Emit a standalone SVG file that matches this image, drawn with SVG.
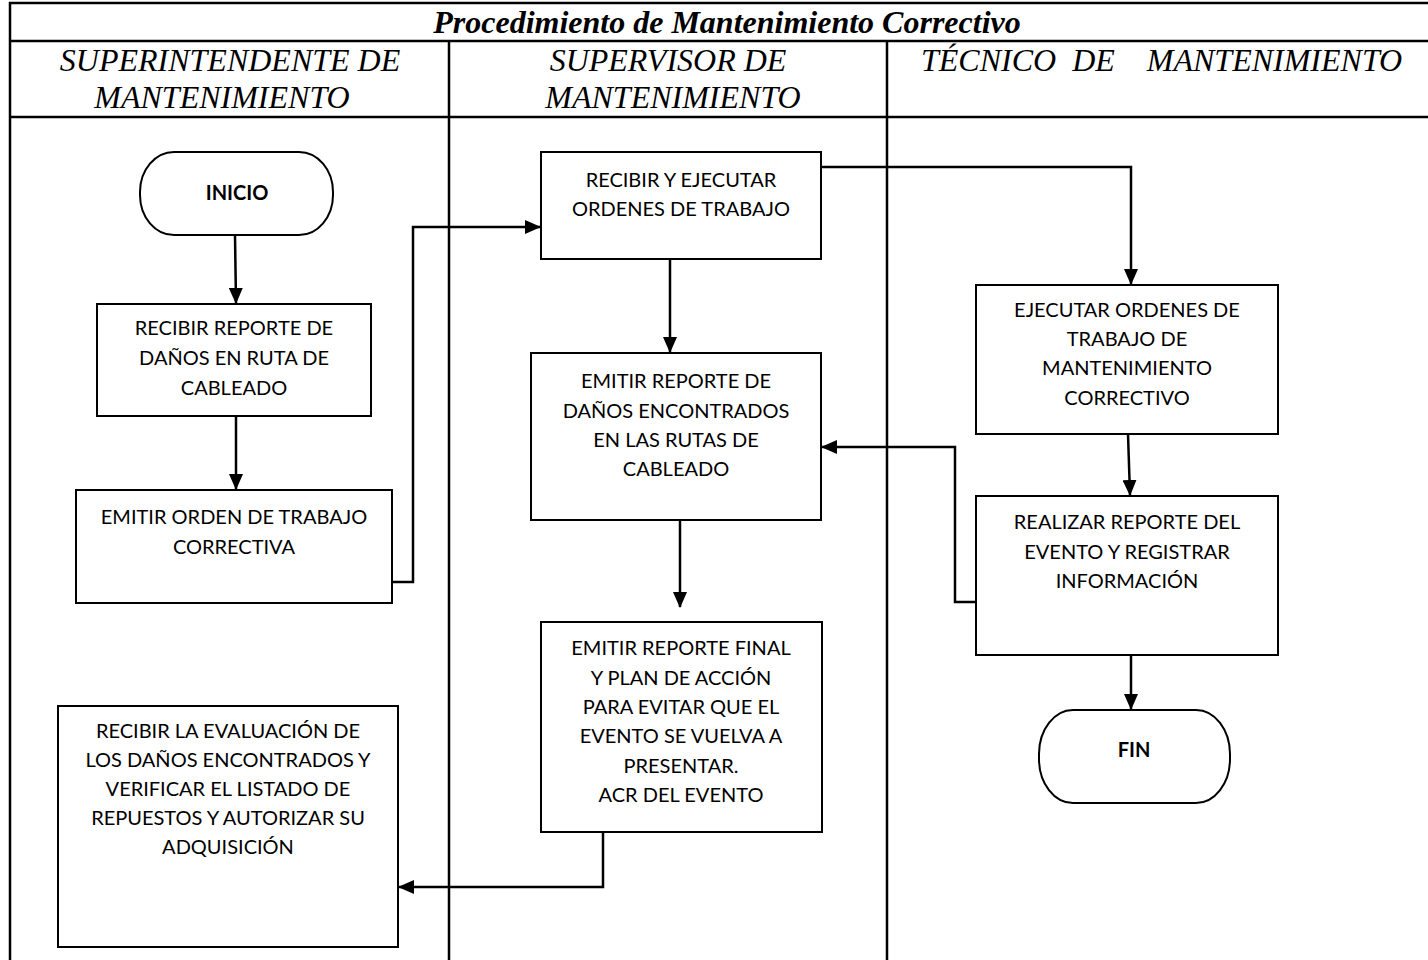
<svg xmlns="http://www.w3.org/2000/svg" width="1428" height="960" viewBox="0 0 1428 960">
<style>
.grid{stroke:#000;stroke-width:2.5;fill:none}
.box{fill:#fff;stroke:#000;stroke-width:2}
.term{fill:#fff;stroke:#000;stroke-width:2}
.t{font-family:Lato,"Open Sans",sans-serif;font-size:20px;fill:#000;text-anchor:middle}
.b{font-weight:bold}
.hd{font-family:"Liberation Serif","Times New Roman",serif;font-style:italic;font-size:32px;fill:#000}
.title{font-family:"Liberation Serif","Times New Roman",serif;font-style:italic;font-weight:bold;font-size:32px;fill:#000;text-anchor:middle}
.c{stroke:#000;stroke-width:2.5;fill:none}
</style>
<defs>
<marker id="ah" markerWidth="16" markerHeight="14" refX="15" refY="7" orient="auto" markerUnits="userSpaceOnUse">
<path d="M0,0 L16,7 L0,14 Z" fill="#000"/>
</marker>
</defs>
<rect width="1428" height="960" fill="#fff"/>
<g id="table">
<line class="grid" x1="9" y1="3" x2="1428" y2="3"/>
<line class="grid" x1="9" y1="41" x2="1428" y2="41"/>
<line class="grid" x1="9" y1="117" x2="1428" y2="117"/>
<line class="grid" x1="10" y1="2" x2="10" y2="960"/>
<line class="grid" x1="449" y1="41" x2="449" y2="960"/>
<line class="grid" x1="887" y1="41" x2="887" y2="960"/>
<text class="title" x="727" y="33">Procedimiento de Mantenimiento Correctivo</text>
<text class="hd" x="230" y="71" text-anchor="middle">SUPERINTENDENTE DE</text>
<text class="hd" x="222" y="108" text-anchor="middle">MANTENIMIENTO</text>
<text class="hd" x="668" y="71" text-anchor="middle">SUPERVISOR DE</text>
<text class="hd" x="673" y="108" text-anchor="middle">MANTENIMIENTO</text>
<text class="hd" x="921" y="71" xml:space="preserve" style="white-space:pre">TÉCNICO  DE    MANTENIMIENTO</text>
</g>
<g id="connectors">
<path class="c" d="M235,235 L236,303" marker-end="url(#ah)"/>
<path class="c" d="M236,416 L236,489" marker-end="url(#ah)"/>
<path class="c" d="M392,582 L413,582 L413,227 L540,227" marker-end="url(#ah)"/>
<path class="c" d="M670,260 L670,352" marker-end="url(#ah)"/>
<path class="c" d="M821,167 L1131,167 L1131,284" marker-end="url(#ah)"/>
<path class="c" d="M1128,434 L1130,495" marker-end="url(#ah)"/>
<path class="c" d="M976,602 L955,602 L955,447 L822,447" marker-end="url(#ah)"/>
<path class="c" d="M680,520 L680,607" marker-end="url(#ah)"/>
<path class="c" d="M1131,655 L1131,709" marker-end="url(#ah)"/>
<path class="c" d="M603,832 L603,887 L399,887" marker-end="url(#ah)"/>
</g>
<g id="inicio">
<rect class="term" x="140" y="152" width="193" height="83" rx="34" ry="40"/>
<text class="t b" x="237" y="200">INICIO</text>
</g>
<g id="recibir-reporte">
<rect class="box" x="97" y="304" width="274" height="112"/>
<text class="t" x="234" y="335">RECIBIR REPORTE DE</text>
<text class="t" x="234" y="365">DAÑOS EN RUTA DE</text>
<text class="t" x="234" y="395">CABLEADO</text>
</g>
<g id="emitir-orden">
<rect class="box" x="76" y="490" width="316" height="113"/>
<text class="t" x="234" y="524">EMITIR ORDEN DE TRABAJO</text>
<text class="t" x="234" y="554">CORRECTIVA</text>
</g>
<g id="recibir-ejecutar">
<rect class="box" x="541" y="152" width="280" height="107"/>
<text class="t" x="681" y="187">RECIBIR Y EJECUTAR</text>
<text class="t" x="681" y="216">ORDENES DE TRABAJO</text>
</g>
<g id="emitir-reporte-danos">
<rect class="box" x="531" y="353" width="290" height="167"/>
<text class="t" x="676" y="388">EMITIR REPORTE DE</text>
<text class="t" x="676" y="418">DAÑOS ENCONTRADOS</text>
<text class="t" x="676" y="447">EN LAS RUTAS DE</text>
<text class="t" x="676" y="476">CABLEADO</text>
</g>
<g id="emitir-reporte-final">
<rect class="box" x="541" y="622" width="281" height="210"/>
<text class="t" x="681" y="655">EMITIR REPORTE FINAL</text>
<text class="t" x="681" y="685">Y PLAN DE ACCIÓN</text>
<text class="t" x="681" y="714">PARA EVITAR QUE EL</text>
<text class="t" x="681" y="743">EVENTO SE VUELVA A</text>
<text class="t" x="681" y="773">PRESENTAR.</text>
<text class="t" x="681" y="802">ACR DEL EVENTO</text>
</g>
<g id="recibir-evaluacion">
<rect class="box" x="58" y="706" width="340" height="241"/>
<text class="t" x="228" y="738">RECIBIR LA EVALUACIÓN DE</text>
<text class="t" x="228" y="767">LOS DAÑOS ENCONTRADOS Y</text>
<text class="t" x="228" y="796">VERIFICAR EL LISTADO DE</text>
<text class="t" x="228" y="825">REPUESTOS Y AUTORIZAR SU</text>
<text class="t" x="228" y="854">ADQUISICIÓN</text>
</g>
<g id="ejecutar-ordenes">
<rect class="box" x="976" y="285" width="302" height="149"/>
<text class="t" x="1127" y="317">EJECUTAR ORDENES DE</text>
<text class="t" x="1127" y="346">TRABAJO DE</text>
<text class="t" x="1127" y="375">MANTENIMIENTO</text>
<text class="t" x="1127" y="405">CORRECTIVO</text>
</g>
<g id="realizar-reporte">
<rect class="box" x="976" y="496" width="302" height="159"/>
<text class="t" x="1127" y="529">REALIZAR REPORTE DEL</text>
<text class="t" x="1127" y="559">EVENTO Y REGISTRAR</text>
<text class="t" x="1127" y="588">INFORMACIÓN</text>
</g>
<g id="fin">
<rect class="term" x="1039" y="710" width="191" height="93" rx="34" ry="44"/>
<text class="t b" x="1134" y="757">FIN</text>
</g>
</svg>
